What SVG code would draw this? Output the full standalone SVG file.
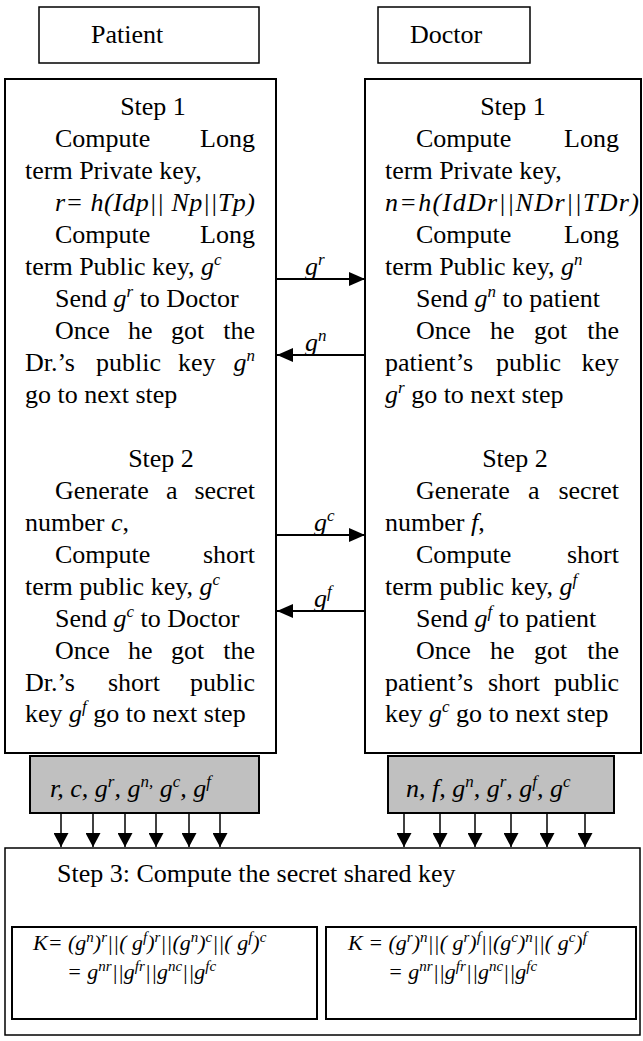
<svg xmlns="http://www.w3.org/2000/svg" width="643" height="1041" viewBox="0 0 643 1041">
  <defs>
    <style>
      .tx { font-family: "Liberation Serif", "Times New Roman", serif; font-size: 26px; fill: #000; }
      .it { font-style: italic; }
      .sp { font-size: 17px; font-style: italic; }
      .fm { font-size: 22px; font-style: italic; }
      .fs { font-size: 15px; font-style: italic; }
      .hdr { fill: #fff; stroke: #000; stroke-width: 1.5; }
      .box { fill: #fff; stroke: #000; stroke-width: 2; }
      .gray { fill: #c0c0c0; stroke: #000; stroke-width: 2; }
      .cn { stroke: #000; stroke-width: 2; fill: none; }
      .cd { stroke: #000; stroke-width: 1.5; fill: none; }
    </style>
    <marker id="ah" viewBox="0 0 16 14" refX="16" refY="7" markerWidth="16" markerHeight="14" markerUnits="userSpaceOnUse" orient="auto">
      <path d="M0,0 L16,7 L0,14 z" fill="#000"/>
    </marker>
    <marker id="ahd" viewBox="0 0 14 15" refX="14" refY="7.5" markerWidth="14" markerHeight="15" markerUnits="userSpaceOnUse" orient="auto">
      <path d="M0,0 L14,7.5 L0,15 z" fill="#000"/>
    </marker>
  </defs>

  <!-- header boxes -->
  <g id="patient">
    <rect class="hdr" x="39" y="7" width="220" height="56"/>
    <text class="tx" x="91" y="43">Patient</text>
  </g>
  <g id="doctor">
    <rect class="hdr" x="378" y="7" width="152" height="56"/>
    <text class="tx" x="410" y="43">Doctor</text>
  </g>

  <!-- patient side: steps 1 and 2 -->
  <g id="patient-steps">
    <rect class="box" x="5" y="79" width="271" height="674"/>
    <text class="tx" x="153" y="115" text-anchor="middle">Step 1</text>
    <text class="tx" x="55" y="147">Compute</text>
    <text class="tx" x="255" y="147" text-anchor="end">Long</text>
    <text class="tx" x="25" y="179">term Private key,</text>
    <text class="tx it" x="55" y="211" textLength="200" lengthAdjust="spacing">r= h(Idp|| Np||Tp)</text>
    <text class="tx" x="55" y="243">Compute</text>
    <text class="tx" x="255" y="243" text-anchor="end">Long</text>
    <text class="tx" x="25" y="275">term Public key, <tspan class="it">g</tspan><tspan class="sp" dy="-10">c</tspan></text>
    <text class="tx" x="55" y="307">Send <tspan class="it">g</tspan><tspan class="sp" dy="-10">r</tspan><tspan dy="10"> to Doctor</tspan></text>
    <text class="tx" y="339"><tspan x="55">Once</tspan><tspan x="128">he</tspan><tspan x="171">got</tspan></text>
    <text class="tx" x="255" y="339" text-anchor="end">the</text>
    <text class="tx" y="371"><tspan x="25">Dr.’s</tspan><tspan x="96">public</tspan><tspan x="178">key</tspan></text>
    <text class="tx" x="255" y="371" text-anchor="end"><tspan class="it">g</tspan><tspan class="sp" dy="-10">n</tspan></text>
    <text class="tx" x="25" y="403">go to next step</text>

    <text class="tx" x="161" y="467" text-anchor="middle">Step 2</text>
    <text class="tx" y="499"><tspan x="55">Generate</tspan><tspan x="166">a</tspan></text>
    <text class="tx" x="255" y="499" text-anchor="end">secret</text>
    <text class="tx" x="25" y="531">number <tspan class="it">c</tspan>,</text>
    <text class="tx" x="55" y="563">Compute</text>
    <text class="tx" x="255" y="563" text-anchor="end">short</text>
    <text class="tx" x="25" y="595">term public key, <tspan class="it">g</tspan><tspan class="sp" dy="-10">c</tspan></text>
    <text class="tx" x="55" y="627">Send <tspan class="it">g</tspan><tspan class="sp" dy="-10">c</tspan><tspan dy="10"> to Doctor</tspan></text>
    <text class="tx" y="659"><tspan x="55">Once</tspan><tspan x="128">he</tspan><tspan x="171">got</tspan></text>
    <text class="tx" x="255" y="659" text-anchor="end">the</text>
    <text class="tx" y="691"><tspan x="25">Dr.’s</tspan><tspan x="108">short</tspan></text>
    <text class="tx" x="255" y="691" text-anchor="end">public</text>
    <text class="tx" x="25" y="722">key <tspan class="it">g</tspan><tspan class="sp" dy="-10">f</tspan><tspan dy="10"> go to next step</tspan></text>
  </g>

  <!-- doctor side: steps 1 and 2 -->
  <g id="doctor-steps">
    <rect class="box" x="365" y="79" width="276" height="674"/>
    <text class="tx" x="513" y="115" text-anchor="middle">Step 1</text>
    <text class="tx" x="416" y="147">Compute</text>
    <text class="tx" x="619" y="147" text-anchor="end">Long</text>
    <text class="tx" x="385" y="179">term Private key,</text>
    <text class="tx it" x="385" y="211" textLength="254" lengthAdjust="spacing">n=h(IdDr||NDr||TDr)</text>
    <text class="tx" x="416" y="243">Compute</text>
    <text class="tx" x="619" y="243" text-anchor="end">Long</text>
    <text class="tx" x="385" y="275">term Public key, <tspan class="it">g</tspan><tspan class="sp" dy="-10">n</tspan></text>
    <text class="tx" x="416" y="307">Send <tspan class="it">g</tspan><tspan class="sp" dy="-10">n</tspan><tspan dy="10"> to patient</tspan></text>
    <text class="tx" y="339"><tspan x="416">Once</tspan><tspan x="490">he</tspan><tspan x="534">got</tspan></text>
    <text class="tx" x="619" y="339" text-anchor="end">the</text>
    <text class="tx" y="371"><tspan x="385">patient’s</tspan><tspan x="496">public</tspan></text>
    <text class="tx" x="619" y="371" text-anchor="end">key</text>
    <text class="tx" x="385" y="403"><tspan class="it">g</tspan><tspan class="sp" dy="-10">r</tspan><tspan dy="10"> go to next step</tspan></text>

    <text class="tx" x="515" y="467" text-anchor="middle">Step 2</text>
    <text class="tx" y="499"><tspan x="416">Generate</tspan><tspan x="528">a</tspan></text>
    <text class="tx" x="619" y="499" text-anchor="end">secret</text>
    <text class="tx" x="385" y="531">number <tspan class="it">f</tspan>,</text>
    <text class="tx" x="416" y="563">Compute</text>
    <text class="tx" x="619" y="563" text-anchor="end">short</text>
    <text class="tx" x="385" y="595">term public key, <tspan class="it">g</tspan><tspan class="sp" dy="-10">f</tspan></text>
    <text class="tx" x="416" y="627">Send <tspan class="it">g</tspan><tspan class="sp" dy="-10">f</tspan><tspan dy="10"> to patient</tspan></text>
    <text class="tx" y="659"><tspan x="416">Once</tspan><tspan x="490">he</tspan><tspan x="534">got</tspan></text>
    <text class="tx" x="619" y="659" text-anchor="end">the</text>
    <text class="tx" y="691"><tspan x="385">patient’s</tspan><tspan x="488">short</tspan></text>
    <text class="tx" x="619" y="691" text-anchor="end">public</text>
    <text class="tx" x="385" y="722">key <tspan class="it">g</tspan><tspan class="sp" dy="-10">c</tspan><tspan dy="10"> go to next step</tspan></text>
  </g>

  <!-- collected values -->
  <g id="patient-values">
    <rect class="gray" x="30" y="756" width="229" height="57"/>
    <text class="tx it" x="50" y="797">r, c, g<tspan class="sp" dy="-10">r</tspan><tspan dy="10">, g</tspan><tspan class="sp" dy="-10">n,</tspan><tspan dy="10"> g</tspan><tspan class="sp" dy="-10">c</tspan><tspan dy="10">, g</tspan><tspan class="sp" dy="-10">f</tspan></text>
  </g>
  <g id="doctor-values">
    <rect class="gray" x="388" y="756" width="226" height="57"/>
    <text class="tx it" x="406" y="797">n, f, g<tspan class="sp" dy="-10">n</tspan><tspan dy="10">, g</tspan><tspan class="sp" dy="-10">r</tspan><tspan dy="10">, g</tspan><tspan class="sp" dy="-10">f</tspan><tspan dy="10">, g</tspan><tspan class="sp" dy="-10">c</tspan></text>
  </g>

  <!-- step 3 -->
  <g id="step3">
    <rect class="hdr" x="5" y="848" width="635" height="187"/>
    <text class="tx" x="57" y="882">Step 3: Compute the secret shared key</text>
  </g>
  <g id="patient-key">
    <rect class="box" x="12" y="927" width="305" height="92"/>
    <text class="tx fm" x="33" y="950">K= (g<tspan class="fs" dy="-8">n</tspan><tspan dy="8">)</tspan><tspan class="fs" dy="-8">r</tspan><tspan dy="8">||( g</tspan><tspan class="fs" dy="-8">f</tspan><tspan dy="8">)</tspan><tspan class="fs" dy="-8">r</tspan><tspan dy="8">||(g</tspan><tspan class="fs" dy="-8">n</tspan><tspan dy="8">)</tspan><tspan class="fs" dy="-8">c</tspan><tspan dy="8">||( g</tspan><tspan class="fs" dy="-8">f</tspan><tspan dy="8">)</tspan><tspan class="fs" dy="-8">c</tspan></text>
    <text class="tx fm" x="67" y="979">= g<tspan class="fs" dy="-8">nr</tspan><tspan dy="8">||g</tspan><tspan class="fs" dy="-8">fr</tspan><tspan dy="8">||g</tspan><tspan class="fs" dy="-8">nc</tspan><tspan dy="8">||g</tspan><tspan class="fs" dy="-8">fc</tspan></text>
  </g>
  <g id="doctor-key">
    <rect class="box" x="326" y="927" width="310" height="92"/>
    <text class="tx fm" x="348" y="950">K = (g<tspan class="fs" dy="-8">r</tspan><tspan dy="8">)</tspan><tspan class="fs" dy="-8">n</tspan><tspan dy="8">||( g</tspan><tspan class="fs" dy="-8">r</tspan><tspan dy="8">)</tspan><tspan class="fs" dy="-8">f</tspan><tspan dy="8">||(g</tspan><tspan class="fs" dy="-8">c</tspan><tspan dy="8">)</tspan><tspan class="fs" dy="-8">n</tspan><tspan dy="8">||( g</tspan><tspan class="fs" dy="-8">c</tspan><tspan dy="8">)</tspan><tspan class="fs" dy="-8">f</tspan></text>
    <text class="tx fm" x="388" y="979">= g<tspan class="fs" dy="-8">nr</tspan><tspan dy="8">||g</tspan><tspan class="fs" dy="-8">fr</tspan><tspan dy="8">||g</tspan><tspan class="fs" dy="-8">nc</tspan><tspan dy="8">||g</tspan><tspan class="fs" dy="-8">fc</tspan></text>
  </g>

  <!-- connectors -->
  <g id="connectors">
    <line class="cn" x1="276" y1="279" x2="365" y2="279" marker-end="url(#ah)"/>
    <line class="cn" x1="365" y1="355" x2="277" y2="355" marker-end="url(#ah)"/>
    <line class="cn" x1="276" y1="535" x2="365" y2="535" marker-end="url(#ah)"/>
    <line class="cn" x1="365" y1="611" x2="277" y2="611" marker-end="url(#ah)"/>
    <text class="tx it" x="305" y="275">g<tspan class="sp" dy="-10">r</tspan></text>
    <text class="tx it" x="305" y="351">g<tspan class="sp" dy="-10">n</tspan></text>
    <text class="tx it" x="314" y="531">g<tspan class="sp" dy="-10">c</tspan></text>
    <text class="tx it" x="314" y="607">g<tspan class="sp" dy="-10">f</tspan></text>

    <line class="cd" x1="61" y1="813" x2="61" y2="847" marker-end="url(#ahd)"/>
    <line class="cd" x1="93" y1="813" x2="93" y2="847" marker-end="url(#ahd)"/>
    <line class="cd" x1="125" y1="813" x2="125" y2="847" marker-end="url(#ahd)"/>
    <line class="cd" x1="156" y1="813" x2="156" y2="847" marker-end="url(#ahd)"/>
    <line class="cd" x1="189" y1="813" x2="189" y2="847" marker-end="url(#ahd)"/>
    <line class="cd" x1="220" y1="813" x2="220" y2="847" marker-end="url(#ahd)"/>

    <line class="cd" x1="404" y1="813" x2="404" y2="847" marker-end="url(#ahd)"/>
    <line class="cd" x1="440" y1="813" x2="440" y2="847" marker-end="url(#ahd)"/>
    <line class="cd" x1="475" y1="813" x2="475" y2="847" marker-end="url(#ahd)"/>
    <line class="cd" x1="511" y1="813" x2="511" y2="847" marker-end="url(#ahd)"/>
    <line class="cd" x1="547" y1="813" x2="547" y2="847" marker-end="url(#ahd)"/>
    <line class="cd" x1="585" y1="813" x2="585" y2="847" marker-end="url(#ahd)"/>
  </g>
</svg>
